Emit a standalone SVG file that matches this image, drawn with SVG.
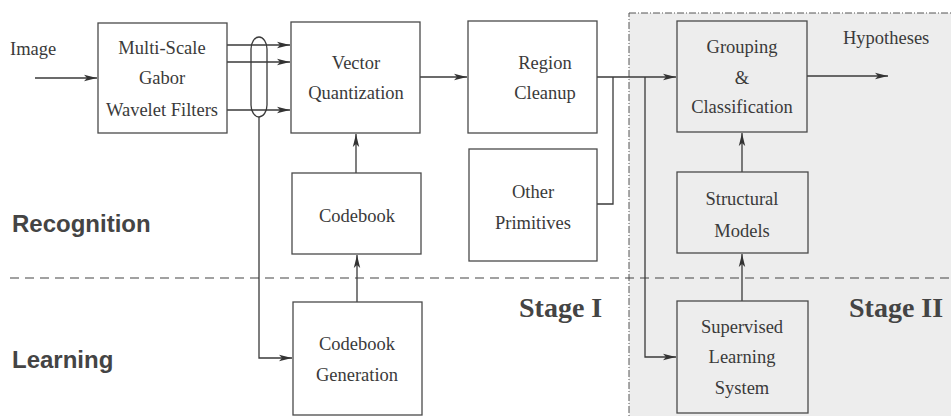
<svg xmlns="http://www.w3.org/2000/svg" width="951" height="416" viewBox="0 0 951 416">
<defs>
<style>
.box{fill:none;stroke:#4a4a4a;stroke-width:1.3}
.t{font-family:"Liberation Serif","Times New Roman",serif;font-size:18.5px;fill:#3a3a3a;text-anchor:middle}
.tl{font-family:"Liberation Serif","Times New Roman",serif;font-size:18.5px;fill:#3a3a3a}
.side{font-family:"Liberation Sans",Arial,sans-serif;font-size:24px;font-weight:bold;fill:#444}
.stage{font-family:"Liberation Serif","Times New Roman",serif;font-size:28px;font-weight:bold;fill:#444}
.ln{fill:none;stroke:#3a3a3a;stroke-width:1.3}
.arr{fill:none;stroke:#3a3a3a;stroke-width:1.3;marker-end:url(#ah)}
</style>
<marker id="ah" markerWidth="14" markerHeight="8" refX="13" refY="4" orient="auto" markerUnits="userSpaceOnUse">
<path d="M0,0.8 L13,4 L0,7.2 L3,4 Z" fill="#333"/>
</marker>
</defs>
<rect width="951" height="416" fill="#ffffff"/>
<g id="stage2-region">
<rect x="629" y="13" width="330" height="410" fill="#ededed" stroke="#555" stroke-width="1" stroke-dasharray="7 2 1 2"/>
</g>
<line x1="10" y1="278" x2="951" y2="278" stroke="#444" stroke-width="1.2" stroke-dasharray="9 6"/>
<text class="side" x="12" y="232">Recognition</text>
<text class="side" x="12" y="368">Learning</text>
<text class="stage" x="519" y="317">Stage I</text>
<text class="stage" x="849" y="317">Stage II</text>
<text class="tl" x="10" y="55">Image</text>
<text class="tl" x="843" y="44">Hypotheses</text>
<g id="connectors">
<line class="arr" x1="35" y1="78" x2="97" y2="78"/>
<line class="arr" x1="227" y1="45" x2="290" y2="45"/>
<line class="arr" x1="227" y1="62" x2="290" y2="62"/>
<line class="arr" x1="227" y1="110" x2="290" y2="110"/>
<rect x="251" y="37" width="16" height="80" rx="8" ry="12" fill="none" stroke="#3a3a3a" stroke-width="1.3"/>
<polyline class="arr" points="259,117 259,358 292,358"/>
<line class="arr" x1="420" y1="77" x2="467" y2="77"/>
<line class="arr" x1="356" y1="173" x2="356" y2="134"/>
<line class="arr" x1="357" y1="302" x2="357" y2="255"/>
<line class="arr" x1="597" y1="77" x2="676" y2="77"/>
<polyline class="ln" points="597,204 613,204 613,77"/>
<polyline class="arr" points="645,77 645,357 676,357"/>
<line class="arr" x1="807" y1="76" x2="888" y2="76"/>
<line class="arr" x1="742" y1="172" x2="742" y2="133"/>
<line class="arr" x1="742" y1="301" x2="742" y2="254"/>
</g>
<g id="gabor">
<rect class="box" x="98" y="23" width="129" height="110"/>
<text class="t" x="162" y="54">Multi-Scale</text>
<text class="t" x="162" y="84">Gabor</text>
<text class="t" x="162" y="116">Wavelet Filters</text>
</g>
<g id="vq">
<rect class="box" x="291" y="22" width="129" height="111"/>
<text class="t" x="356" y="69">Vector</text>
<text class="t" x="356" y="99">Quantization</text>
</g>
<g id="region-cleanup">
<rect class="box" x="468" y="21" width="129" height="112"/>
<text class="t" x="545" y="69">Region</text>
<text class="t" x="545" y="99">Cleanup</text>
</g>
<g id="codebook">
<rect class="box" x="292" y="173" width="129" height="81"/>
<text class="t" x="357" y="222">Codebook</text>
</g>
<g id="codebook-generation">
<rect class="box" x="293" y="302" width="129" height="113"/>
<text class="t" x="357" y="350">Codebook</text>
<text class="t" x="357" y="381">Generation</text>
</g>
<g id="other-primitives">
<rect class="box" x="469" y="149" width="128" height="112"/>
<text class="t" x="533" y="198">Other</text>
<text class="t" x="533" y="229">Primitives</text>
</g>
<g id="grouping">
<rect class="box" x="677" y="21" width="130" height="111"/>
<text class="t" x="742" y="53">Grouping</text>
<text class="t" x="742" y="84">&amp;</text>
<text class="t" x="742" y="113">Classification</text>
</g>
<g id="structural-models">
<rect class="box" x="677" y="172" width="131" height="81"/>
<text class="t" x="742" y="205">Structural</text>
<text class="t" x="742" y="237">Models</text>
</g>
<g id="supervised-learning">
<rect class="box" x="677" y="301" width="131" height="112"/>
<text class="t" x="742" y="333">Supervised</text>
<text class="t" x="742" y="363">Learning</text>
<text class="t" x="742" y="394">System</text>
</g>
</svg>
